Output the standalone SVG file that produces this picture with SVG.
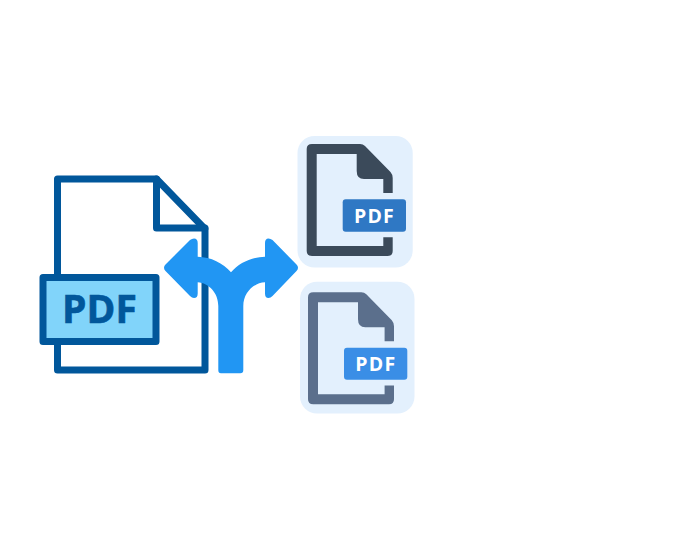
<svg xmlns="http://www.w3.org/2000/svg" width="700" height="550" viewBox="0 0 700 550">
<style>
.big{fill:none;stroke:#01579b;stroke-width:7;stroke-linejoin:round;stroke-linecap:round}
.t{font-family:"Open Sans","Noto Sans","Liberation Sans",sans-serif;font-weight:700;text-anchor:middle}
.bg{fill:#e3f0fd}
.lab{fill:#fff;font-size:19.5px;letter-spacing:1.2px}
</style>
<defs>
<path id="doc" fill-rule="evenodd" d="M312 144H360Q363 144 365 146L390.500 172Q392.700 174.500 392.700 178V193H383.300V179H364Q356.700 179 356.700 171V154H316.700V246H383.300V237.300H392.700V251Q392.700 256 387.700 256H312Q306.700 256 306.700 251V149Q306.700 144 312 144Z"/>
</defs>
<rect width="700" height="550" fill="#fff"/>
<g id="source-pdf">
<path class="big" d="M57.500 179H156.500L205 229V370H57.500Z" fill="#fff"/>
<path class="big" d="M156.500 179V228H205"/>
<rect x="43" y="277.500" width="113" height="64" fill="#81d4fa" stroke="#01579b" stroke-width="7" stroke-linejoin="round"/>
<text class="t" x="99.500" y="323" font-size="39" fill="#01579b" stroke="#01579b" stroke-width="0.6">PDF</text>
</g>
<g id="connectors">
<path fill="#2196f3" d="M221 373.300Q218.300 373.300 218.300 370V306C218.300 293 209 283 197.700 282.300V293.500Q197.700 298 194 298Q192 298 190 296L165.500 271Q162.500 267.700 165.500 264.500L190 240Q192 238.500 194 238.500Q197.700 238.500 197.700 243V256.700C211 257 223 263 231 272.300C239 263 251 257 265 256.700V243Q265 238.500 268.500 238.500Q270.500 238.500 272.500 240L296.500 264.500Q299.500 267.700 296.500 271L272.500 296Q270.500 298 268.500 298Q265 298 265 293.500V282.300C253 283 243.300 293 243.300 306V370Q243.300 373.300 240.300 373.300Z"/>
</g>
<g id="output-pdf-1">
<rect class="bg" x="297.500" y="136" width="115.200" height="131.500" rx="17"/>
<use href="#doc" fill="#3b4a5a"/>
<rect x="342.700" y="199.300" width="63.300" height="32.400" rx="3" fill="#2f78c4"/>
<text class="t lab" x="374.500" y="223.300">PDF</text>
</g>
<g id="output-pdf-2">
<rect class="bg" x="300" y="281.700" width="114.500" height="131.800" rx="17"/>
<use href="#doc" x="1.300" y="148.300" fill="#5b6f8c"/>
<rect x="344" y="347.700" width="63.300" height="32" rx="3" fill="#3a8ee6"/>
<text class="t lab" x="375.800" y="371">PDF</text>
</g>
</svg>
